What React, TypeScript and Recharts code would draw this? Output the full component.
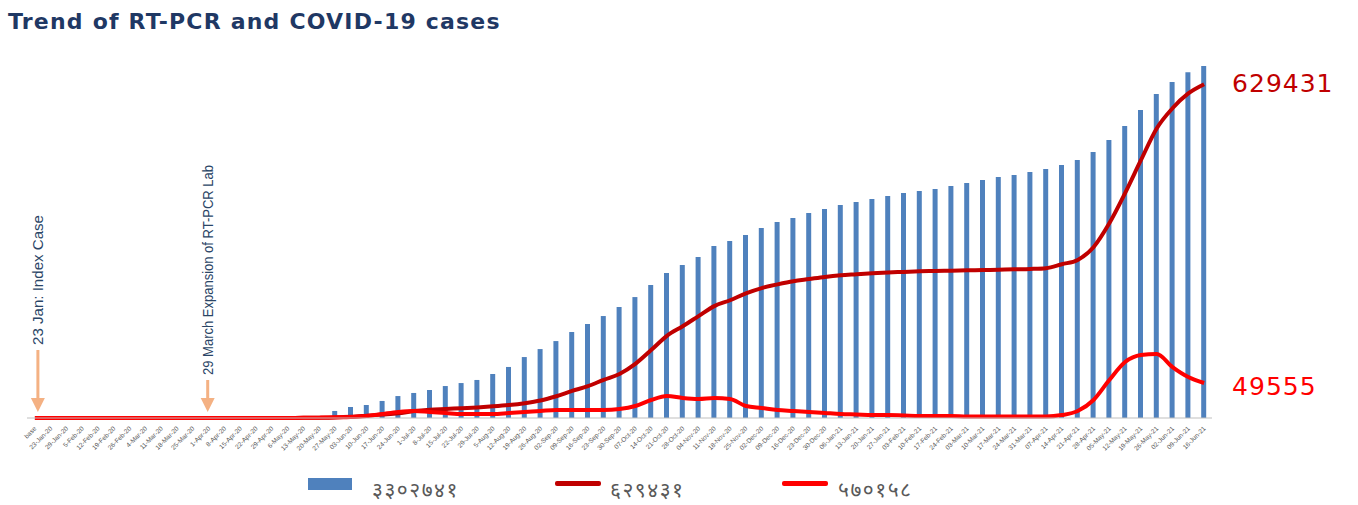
import React from "react";
import { ComposedChart, Bar, Line, XAxis, YAxis, ReferenceLine } from "recharts";

const weeks = [
  "base", "23-Jan-20", "29-Jan-20", "5-Feb-20", "12-Feb-20", "19-Feb-20", "26-Feb-20", "4-Mar-20",
  "11-Mar-20", "18-Mar-20", "25-Mar-20", "1-Apr-20", "8-Apr-20", "15-Apr-20", "22-Apr-20", "29-Apr-20",
  "6-May-20", "13-May-20", "20-May-20", "27-May-20", "03-Jun-20", "10-Jun-20", "17-Jun-20", "24-Jun-20",
  "1-Jul-20", "8-Jul-20", "15-Jul-20", "22-Jul-20", "29-Jul-20", "5-Aug-20", "12-Aug-20", "19-Aug-20",
  "26-Aug-20", "02-Sep-20", "09-Sep-20", "16-Sep-20", "23-Sep-20", "30-Sep-20", "07-Oct-20", "14-Oct-20",
  "21-Oct-20", "28-Oct-20", "04-Nov-20", "11-Nov-20", "18-Nov-20", "25-Nov-20", "02-Dec-20", "09-Dec-20",
  "16-Dec-20", "23-Dec-20", "30-Dec-20", "06-Jan-21", "13-Jan-21", "20-Jan-21", "27-Jan-21", "03-Feb-21",
  "10-Feb-21", "17-Feb-21", "24-Feb-21", "03-Mar-21", "10-Mar-21", "17-Mar-21", "24-Mar-21", "31-Mar-21",
  "07-Apr-21", "14-Apr-21", "21-Apr-21", "28-Apr-21", "05-May-21", "12-May-21", "19-May-21", "26-May-21",
  "02-Jun-21", "09-Jun-21", "16-Jun-21",
];

// cumulative RT-PCR tests (bars)
const rtPcrTests = [
  0, 0, 0, 0, 0, 0, 0, 0, 0, 0, 0, 0, 1000, 2000, 3000, 5000, 8000, 12000, 19000,
  66000, 103000, 122000, 160000, 206000, 235000, 263000, 300000, 328000, 357000, 413000,
  479000, 572000, 647000, 722000, 807000, 882000, 957000, 1042000, 1135000, 1248000,
  1361000, 1436000, 1511000, 1614000, 1661000, 1717000, 1783000, 1839000, 1877000, 1924000,
  1961000, 1999000, 2027000, 2055000, 2083000, 2111000, 2130000, 2149000, 2177000, 2205000,
  2233000, 2261000, 2280000, 2308000, 2336000, 2374000, 2421000, 2496000, 2608000, 2740000,
  2890000, 3040000, 3153000, 3246000, 3302741,
];

// cumulative cases (dark red line)
const totalCases = [
  0, 1, 1, 1, 1, 1, 1, 1, 1, 1, 5, 6, 9, 16, 45, 57, 101, 249, 487, 1042,
  2300, 4400, 6600, 9000, 13000, 15500, 17000, 18500, 20000, 22000, 24500, 28000, 33000,
  41000, 51000, 60000, 72000, 83000, 102000, 128000, 155000, 173000, 192000, 211000,
  222000, 235000, 245000, 252000, 258000, 262000, 266000, 269000, 271000, 273000, 274500,
  275500, 276500, 277200, 277800, 278400, 279000, 279600, 280300, 281000, 282500, 290000,
  298000, 322000, 367000, 424000, 486000, 546000, 584000, 612000, 629431,
];

// active cases (red line)
const activeCases = [
  0, 1, 0, 0, 0, 0, 0, 0, 0, 0, 4, 5, 8, 15, 30, 40, 70, 200, 500, 1000, 1500,
  2800, 5700, 8500, 9900, 8500, 7100, 5700, 5700, 5700, 7100, 8500, 9900, 11300, 11300,
  11300, 11300, 12700, 17000, 25500, 31200, 28300, 26900, 28300, 26900, 17000, 14200,
  11300, 9900, 8500, 7100, 5700, 5000, 4200, 4200, 3500, 2800, 2800, 2800, 2100, 2100,
  2100, 2100, 2100, 2100, 4200, 9900, 25500, 53800, 79300, 89200, 90600, 72200, 58100, 49555,
];

const legendLabels = ["३३०२७४१", "६२९४३१", "५७०१५८"];

const data = weeks.map((week, i) => ({
  week,
  tests: rtPcrTests[i],
  cases: totalCases[i],
  active: activeCases[i],
}));

const lastIndex = weeks.length - 1;

const WeekTick = (props: any) => {
  const { x, y, payload } = props;
  return (
    <text
      transform={`translate(${x + 2},${y + 3}) rotate(-45)`}
      textAnchor="end"
      fontSize={6.5}
      fontFamily="Liberation Sans, Arial, sans-serif"
      fill="#555555"
    >
      {payload.value}
    </text>
  );
};

const arrowNote = (text: string, textBottom: number, textLen: number, dx: number) => (props: any) => {
  const x = props.x1 + dx;
  const base = Math.max(props.y1, props.y2);
  const tip = base - 6;
  const headTop = tip - 14;
  return (
    <g>
      <rect x={x - 1.5} y={textBottom + 5} width={3} height={headTop - textBottom - 4} fill="#F4B183" />
      <polygon points={`${x - 7},${headTop} ${x + 7},${headTop} ${x},${tip}`} fill="#F4B183" />
      <text
        transform={`translate(${x},${textBottom}) rotate(-90)`}
        dy="0.36em"
        fontSize={14}
        textLength={textLen}
        lengthAdjust="spacingAndGlyphs"
        fontFamily="Liberation Sans, Arial, sans-serif"
        fill="#2A4566"
      >
        {text}
      </text>
    </g>
  );
};

const endLabel = (text: string, color: string, dy: number) => (props: any) => {
  if (props.index !== lastIndex) return <g />;
  return (
    <text
      x={props.x + 28}
      y={props.y + dy}
      dominantBaseline="central"
      fontSize={25}
      letterSpacing={1}
      fontFamily="DejaVu Sans, sans-serif"
      fill={color}
    >
      {text}
    </text>
  );
};

export default function App() {
  return (
    <div style={{ position: "absolute", left: 0, top: 0, width: 1358, height: 505, background: "#fff" }}>
      <div
        style={{
          position: "absolute",
          left: 8,
          top: 9,
          lineHeight: "26px",
          fontSize: 22,
          letterSpacing: 1.2,
          fontWeight: "bold",
          fontFamily: "DejaVu Sans, sans-serif",
          color: "#1F3864",
        }}
      >
        Trend of RT-PCR and COVID-19 cases
      </div>
      <ComposedChart
        width={1358}
        height={505}
        data={data}
        margin={{ top: 60, right: 146, left: 27, bottom: 0 }}
      >
        <XAxis
          dataKey="week"
          interval={0}
          tick={<WeekTick />}
          tickLine={false}
          axisLine={{ stroke: "#BFBFBF" }}
          height={87}
        />
        <YAxis yAxisId="tests" hide domain={[0, 3360000]} />
        <YAxis yAxisId="cases" hide domain={[0, 675000]} />
        <YAxis yAxisId="active" hide domain={[0, 507000]} />
        <Bar yAxisId="tests" dataKey="tests" fill="#4F81BD" barSize={5} isAnimationActive={false} />
        <Line
          yAxisId="cases"
          type="monotone"
          dataKey="cases"
          stroke="#C00000"
          strokeWidth={4}
          dot={false}
          isAnimationActive={false}
          label={endLabel("629431", "#C00000", -1)}
        />
        <Line
          yAxisId="active"
          type="monotone"
          dataKey="active"
          stroke="#FF0000"
          strokeWidth={4}
          dot={false}
          isAnimationActive={false}
          label={endLabel("49555", "#FF0000", 3)}
        />
        <ReferenceLine yAxisId="tests" x="base" stroke="none" shape={arrowNote("23 Jan: Index Case", 345, 130, 3)} />
        <ReferenceLine
          yAxisId="tests"
          x="1-Apr-20"
          stroke="none"
          shape={arrowNote("29 March Expansion of RT-PCR Lab", 375, 210, -1)}
        />
      </ComposedChart>
      {/* legend */}
      <div style={{ position: "absolute", left: 308, top: 478, width: 44, height: 12, background: "#4F81BD" }} />
      <div style={{ position: "absolute", left: 555, top: 481, width: 46, height: 5, borderRadius: 2, background: "#C00000" }} />
      <div style={{ position: "absolute", left: 782, top: 481, width: 46, height: 5, borderRadius: 2, background: "#FF0000" }} />
      {[372, 610, 838].map((left, i) => (
        <div
          key={legendLabels[i]}
          style={{
            position: "absolute",
            left,
            top: 476,
            lineHeight: "26px",
            fontSize: 21,
            letterSpacing: 1.5,
            fontFamily: "Noto Sans, DejaVu Sans, sans-serif",
            color: "#595959",
          }}
        >
          {legendLabels[i]}
        </div>
      ))}
    </div>
  );
}
